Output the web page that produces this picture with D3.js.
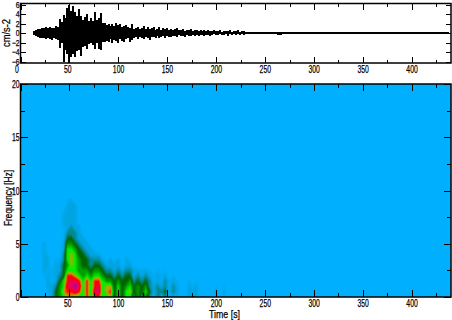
<!DOCTYPE html>
<html>
<head>
<meta charset="utf-8">
<script src="https://cdn.jsdelivr.net/npm/d3@7"></script>
<style>
html, body { margin: 0; padding: 0; background: #fff; }
svg { display: block; }
text { font-family: "Liberation Sans", sans-serif; font-size: 11px; fill: #000; stroke: #000; stroke-width: 0.25px; }
</style>
</head>
<body>
<svg id="chart" width="452" height="320"></svg>
<script>
// waveform peaks, cm/s-2, one pair every 2 s from 12 s to 228 s
var waveStart = 12;
var waveStep = 2;
var waveUpper = [0.1,0.5,0.7,0.8,0.9,1,1,1.2,1.1,1.3,1,1.1,1.5,1.2,
    3,2.4,3.8,3.2,5.2,6,4.6,5.6,4.4,3.6,5,3.5,2.8,3.4,4,2.6,3.1,2.5,4.4,2.8,3.2,4.2,2.2,
    2.2,1.6,1.9,1.4,2,1.5,2.1,1.6,2,1.2,1.5,1.7,1.2,1,1.8,0.9,1.1,
    1.3,0.8,1.1,1.4,0.9,1.2,0.8,1,1.3,0.7,0.9,1.2,0.7,1,0.8,1.1,0.6,0.9,0.7,0.8,1,0.6,0.7,0.9,0.5,0.7,0.6,0.8,0.5,0.7,0.6,0.5,0.7,0.4,0.6,0.5,0.7,0.4,0.5,0.6,0.4,0.5,0.6,0.3,0.5,0.4,0.5,0.6,0.3,0.4,0.5,0.6,0.3,0.4,0.5];
var waveLower = [-0.1,-0.5,-0.7,-0.9,-1,-1.1,-1,-1.3,-1,-1.2,-1.4,-1.1,-1.2,-1.5,
    -3.2,-2.2,-6.2,-3.6,-4.4,-6.4,-5,-4.4,-5,-3.8,-3.6,-4.8,-3,-2.8,-3.4,-2.4,-2.2,-2.6,-3.4,-2,-3.3,-3.5,-1.8,
    -1.8,-1.6,-1.9,-1.2,-2,-1.4,-1.7,-2,-1.3,-1.6,-1.8,-1.2,-1.1,-1.9,-1.4,-1,-0.9,
    -1.2,-0.8,-1,-1.3,-0.8,-1.1,-1.4,-0.8,-0.9,-1.1,-0.7,-1,-0.8,-0.7,-1,-0.6,-0.8,-0.9,-0.6,-0.7,-0.8,-0.5,-0.7,-0.6,-0.8,-0.5,-0.6,-0.7,-0.5,-0.6,-0.4,-0.7,-0.5,-0.4,-0.6,-0.4,-0.5,-0.6,-0.4,-0.3,-0.5,-0.4,-0.3,-0.5,-0.4,-0.3,-0.6,-0.3,-0.4,-0.3,-0.4,-0.3,-0.4,-0.3,-0.4];
// quiet tail, one pair every 5 s from 230 s
var tailStart = 230;
var tailStep = 5;
var tailUpper = [0.3,0.2,0.2,0.25,0.2,0.15,0.2,0.2,0.15,0.2,0.2,0.15,0.2,0.15,0.2,0.15,0.15,0.2,0.15,0.15,0.2,0.15,0.15,0.2,0.15,0.15,0.15,0.2,0.15,0.15,0.15,0.2,0.15,0.15,0.15,0.15,0.2,0.15,0.15,0.15,0.15,0.15];
var tailLower = [-0.3,-0.3,-0.2,-0.2,-0.25,-0.2,-0.2,-0.4,-0.2,-0.2,-0.2,-0.2,-0.15,-0.2,-0.2,-0.15,-0.2,-0.15,-0.2,-0.2,-0.15,-0.2,-0.15,-0.2,-0.15,-0.2,-0.15,-0.15,-0.2,-0.15,-0.15,-0.2,-0.15,-0.15,-0.2,-0.15,-0.15,-0.15,-0.2,-0.15,-0.15,-0.15];

// spectrogram level (0-9), one list per time slice, 0.5 Hz steps starting from 0 Hz
var specStart = 16, specStep = 4, freqStep = 0.5, freqCount = 19;
var specColumns = [
    [0],
    [0],
    [0,0,0,0,0.5,1,1,1,1,1,1],
    [0,0.5,1,1,1,0.5,1,1,0.5],
    [1,1,1,0.5,0.5,0.5],
    [3,3,2,1,1,1,1,0.5],
    [4,4,4,3,2,1,1,0.5],
    [5,6,5,5,3,3,3,2,2,1,1,0.5,0.5,0.5,1,1,0.5],
    [6,7,8,7,7,5,4,5,5,5,4,3,2,1,1,1,1,1,0.5],
    [6,7,8,8,7,5,6,6,6,5,4,3,2,2,1,1,1,1,1],
    [5,8,9,8,6,5,5,5,5,4,3,2,2,1,1,1,1,1],
    [5,7,8,7,5,4,4,4,3,3,2,1,1,1],
    [5,5,5,5,4,4,3,3,3,2,1,1],
    [7,7,7,7,5,4,3,3,2,1,1],
    [5,5,5,5,4,3,2,2,1,1],
    [7,8,7,7,5,4,3,2,1],
    [7,8,8,7,5,4,3,2,1],
    [5,5,5,5,4,3,2,1],
    [5,6,6,4,3,2,1],
    [6,7,6,4,3,2,1,1],
    [3,3,3,3,2,1,1],
    [5,5,5,4,3,2,1,1],
    [3,3,3,3,2,1],
    [5,5,4,3,3,2,1,1],
    [5,6,5,4,3,2,1,0.5],
    [2,3,3,2,1,1],
    [4,4,4,3,2,1],
    [2,3,3,2,1,0.5],
    [4,5,4,3,2,1],
    [2,3,2,2,1,0.5],
    [0.5,1,1,0.5,0.5],
    [2,2,2,1,1,0.5],
    [0.5,2,1,0.5,0.5],
    [2,3,2,2,1,0.5],
    [0,0.5,0.5,0.5],
    [1,2,2,1,0.5],
    [0.5,1,1,0.5],
    [0],
    [0],
    [1,1,1,0.5],
    [0.5,1,0.5],
    [1,1,1,0.5],
    [0],
    [0],
    [0],
    [0],
    [0.5,1,0.5],
    [0],
    [0.5,1,0.5],
    [0],
    [0],
    [0]
];

// level -> colour stops of the palette
var levelStops = [0, 1, 2, 3, 4, 5, 6, 7, 8, 9];
var colorStops = ["#00b0ff", "#00a4e0", "#008a90", "#006400", "#00a000", "#00f000", "#c0a000", "#ff0000", "#e8005c", "#a000d0"];

var xMajor = [0, 50, 100, 150, 200, 250, 300, 350, 400];
var xMinor = [25, 75, 125, 175, 225, 275, 325, 375, 425];
var ampTicks = [6, 4, 2, 0, -2, -4, -6];
var freqMajor = [0, 5, 10, 15, 20];
var freqMinor = [2.5, 7.5, 12.5, 17.5];

var svg = d3.select("#chart");
var left = 20.5, right = 451;

var x = d3.scaleLinear().domain([0, 440]).range([left, right]);
var yAmp = d3.scaleLinear().domain([6, -6]).range([4.5, 61.5]);
var yFreq = d3.scaleLinear().domain([0, 20]).range([297, 84]);
var levelColor = d3.scaleLinear().domain(levelStops).range(colorStops);

var ampTop = 3.5, ampBottom = 63;

// clip for the spectrogram bands
svg.append("clipPath").attr("id", "specClip").append("rect")
    .attr("x", left).attr("y", 84).attr("width", right - left).attr("height", 213);

// spectrogram background
svg.append("rect")
    .attr("x", left).attr("y", 84).attr("width", right - left).attr("height", 213)
    .style("fill", colorStops[0]);

// flatten columns into the grid d3.contours wants (rows = frequency)
var n = specColumns.length;
var grid = new Array(n * freqCount).fill(0);
specColumns.forEach(function(col, i) {
    col.forEach(function(v, j) { grid[j * n + i] = v; });
});

var thresholds = d3.range(0.25, 9.01, 0.25);
var contours = d3.contours().size([n, freqCount]).smooth(true).thresholds(thresholds)(grid);

// contour coords are grid index + 0.5
var project = d3.geoTransform({
    point: function(cx, cy) {
        this.stream.point(
            x(specStart + (cx - 0.5) * specStep),
            yFreq((cy - 0.5) * freqStep)
        );
    }
});
var specPath = d3.geoPath(project);

svg.append("g").attr("clip-path", "url(#specClip)")
    .selectAll("path")
    .data(contours)
    .enter()
    .append("path")
    .attr("d", specPath)
    .style("fill", function(d) { return levelColor(d.value); })
    .style("stroke", "none");

// waveform as one solid bar per sample
var waveBars = waveUpper.map(function(v, i) {
    return { t: waveStart + i * waveStep, up: v, low: waveLower[i], w: 2 };
}).concat(tailUpper.map(function(v, i) {
    return { t: tailStart + i * tailStep, up: v, low: tailLower[i], w: 5 };
}));

svg.append("g").selectAll("line")
    .data(waveBars)
    .enter()
    .append("line")
    .attr("x1", function(d) { return x(d.t); })
    .attr("x2", function(d) { return x(d.t); })
    .attr("y1", function(d) { return yAmp(d.up); })
    .attr("y2", function(d) { return yAmp(d.low); })
    .attr("shape-rendering", "crispEdges")
    .style("stroke", "#000")
    .style("stroke-width", function(d) { return d.w; });

// frames and ticks
function tickStyle(g) {
    g.select(".domain").remove();
    g.selectAll("line").style("stroke", "#000").style("stroke-width", 1).attr("shape-rendering", "crispEdges");
}

function frame(top, bottom) {
    svg.append("rect")
        .attr("x", left).attr("y", top).attr("width", right - left).attr("height", bottom - top)
        .style("fill", "none").style("stroke", "#000").style("stroke-width", 1.5);
}

function xTicks(top, bottom, major, minor, showZero) {
    var blank = "";
    svg.append("g").attr("transform", "translate(0," + bottom + ")")
        .call(d3.axisBottom(x).tickValues(xMajor).tickSize(-major)
            .tickFormat(function(d) { return d === 0 && !showZero ? "" : String(d); }).tickPadding(2))
        .call(tickStyle)
        .call(function(g) {
            g.selectAll("text")
                .filter(function(d) { return d !== 0 || showZero; })
                .attr("text-anchor", "start")
                .attr("dx", -6)
                .attr("textLength", function(d) { return String(d).length * 3.8; })
                .attr("lengthAdjust", "spacingAndGlyphs");
        });
    svg.append("g").attr("transform", "translate(0," + bottom + ")")
        .call(d3.axisBottom(x).tickValues(xMinor).tickSize(-minor).tickFormat(blank)).call(tickStyle);
    svg.append("g").attr("transform", "translate(0," + top + ")")
        .call(d3.axisTop(x).tickValues(xMajor).tickSize(-major).tickFormat(blank)).call(tickStyle);
    svg.append("g").attr("transform", "translate(0," + top + ")")
        .call(d3.axisTop(x).tickValues(xMinor).tickSize(-minor).tickFormat(blank)).call(tickStyle);
}

function yTicks(scale, values, size, labels, fontSize) {
    svg.append("g").attr("transform", "translate(" + left + ",0)")
        .call(d3.axisLeft(scale).tickValues(values).tickSize(-size).tickFormat(labels ? d3.format("d") : "").tickPadding(1))
        .call(tickStyle)
        .call(function(g) {
            g.selectAll("text")
                .attr("x", -1)
                .style("font-size", fontSize + "px")
                .attr("textLength", function(d) { return String(d).length * 3.8; })
                .attr("lengthAdjust", "spacingAndGlyphs");
        });
    svg.append("g").attr("transform", "translate(" + right + ",0)")
        .call(d3.axisRight(scale).tickValues(values).tickSize(-size).tickFormat("")).call(tickStyle);
}

frame(ampTop, ampBottom);
frame(84, 297);
xTicks(ampTop, ampBottom, 6, 3, true);
xTicks(84, 297, 7, 4, false);
yTicks(yAmp, ampTicks, 5, true, 9);
yTicks(yFreq, freqMajor, 7, true, 11);
yTicks(yFreq, freqMinor, 4, false, 11);

// axis titles
function vLabel(txt, cx, cy, len) {
    svg.append("text")
        .attr("transform", "translate(" + cx + "," + cy + ") rotate(-90)")
        .attr("text-anchor", "middle")
        .attr("textLength", len)
        .attr("lengthAdjust", "spacingAndGlyphs")
        .text(txt);
}
vLabel("cm/s-2", 10, 33, 28);
vLabel("Frequency [Hz]", 12, 198, 56);

svg.append("text")
    .attr("x", 209).attr("y", 318)
    .attr("textLength", 31)
    .attr("lengthAdjust", "spacingAndGlyphs")
    .text("Time [s]");
</script>
</body>
</html>
